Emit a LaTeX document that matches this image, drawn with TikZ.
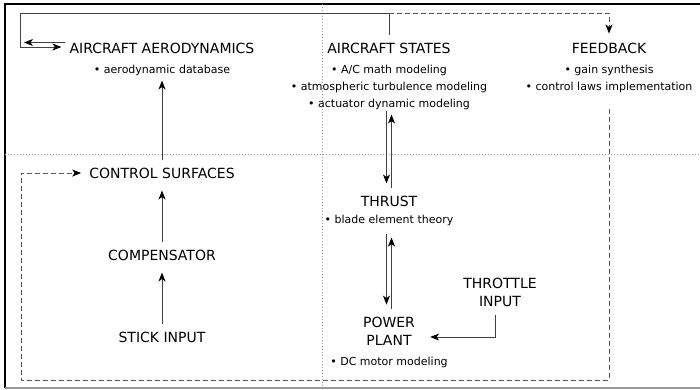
\documentclass[tikz,border=0pt]{standalone}
\usepackage{fontspec}
\setmainfont{DejaVu Sans}
\usetikzlibrary{positioning, arrows.meta}

\begin{document}
\begin{tikzpicture}[x=1pt, y=-1pt,
     node distance = 55pt and 20pt,
               >= {Stealth[length=9pt, width=7pt, inset=2.5pt, color=black]},
      block/.style = {font=\fontsize{14}{18}\selectfont, align=center, inner xsep=4pt, inner ysep=8pt},
       info/.style = {font=\fontsize{11}{17}\selectfont, align=center, inner sep=1pt},
       link/.style = {draw=black!75, line width=0.9pt, ->, shorten >=4pt},
         fb/.style = {link, draw=black!65, dash pattern=on 5pt off 3pt},
      guide/.style = {draw=black!40, line width=0.7pt, dash pattern=on 1pt off 2pt}
                        ]
\useasboundingbox (0,0) rectangle (700,389);
% frame and guide lines
\draw[line width=1.5pt] (700,4) -- (5,4) -- (5,388);
\draw[black!40, line width=1.5pt] (5,388) -- (700,388);
\draw[guide] (322,4) -- (322,388);
\draw[guide] (5,154) -- (700,154);

% left column
\node (aero)   [block] at (162,48) {AIRCRAFT AERODYNAMICS};
\node (aerodb) [info, below=2pt of aero] {• aerodynamic database};
\node (stick)  [block] at (162,337) {STICK INPUT};
\node (comp)   [block, above=of stick] {COMPENSATOR};
\node (surf)   [block, above=of comp] {CONTROL SURFACES};

% middle column
\node (states)     [block] at (389,48) {AIRCRAFT STATES};
\node (statesinfo) [info, below=2pt of states] {• A/C math modeling\\ • atmospheric turbulence modeling\\ • actuator dynamic modeling};
\node (thrust)     [block] at (389,201) {THRUST};
\node (thrustinfo) [info, below=-1pt of thrust] {• blade element theory};
\node (plant)      [block] at (389,331) {POWER\\PLANT};
\node (plantinfo)  [info, below=3pt of plant] {• DC motor modeling};
\node (throttle)   [block] at (500,292) {THROTTLE\\INPUT};

% right column
\node (feedback) [block] at (609,48) {FEEDBACK};
\node (fbinfo)   [info, below=2pt of feedback] {• gain synthesis\\ • control laws implementation};

\coordinate (tl) at (20,13);
\coordinate (bl) at (21,380);

% stick path
\draw[link] (stick) -- (comp);
\draw[link] (comp) -- (surf);
\draw[link] (surf) -- (aerodb);
% states and aerodynamics
\draw[link] (states.north) |- (tl) |- ([yshift=1pt]aero.west);
\draw[link] ([yshift=5.5pt]aero.west) -- ([yshift=5.5pt]aero.west -| tl);
% states and thrust
\draw[link] ([xshift=-2.5pt]statesinfo.south) -- ([xshift=-2.5pt]thrust.north);
\draw[link] ([xshift=2.5pt]thrust.north) -- ([xshift=2.5pt]statesinfo.south);
% thrust and power plant
\draw[link] ([shift={(-2.5pt,-7pt)}]thrustinfo.south) -- ([xshift=-2.5pt]plant.north);
\draw[link] ([xshift=2.5pt]plant.north) -- ([shift={(2.5pt,-7pt)}]thrustinfo.south);
\draw[link] ([xshift=-5pt]throttle.south) |- ([shift={(7pt,-6pt)}]plant.east);
% feedback loop
\draw[fb] (states.north |- tl) -| ([yshift=-3pt]feedback.north);
\draw[fb] ([yshift=-15pt]fbinfo.south) |- (bl) |- (surf.west);
\end{tikzpicture}
\end{document}
